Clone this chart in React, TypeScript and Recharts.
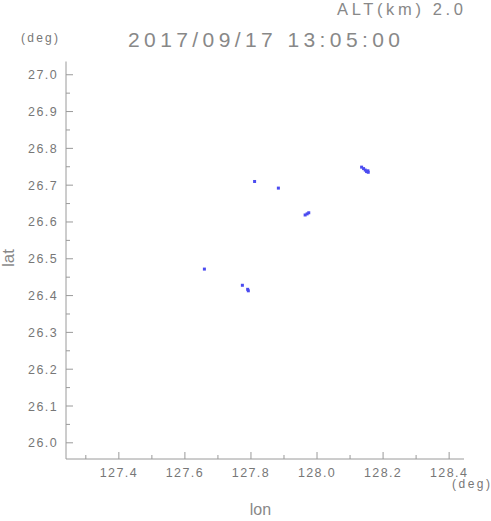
import { ScatterChart, Scatter, XAxis, YAxis } from "recharts";

const lon = [127.811, 127.883, 128.135, 128.141, 128.146, 128.15, 128.155, 128.154, 127.964, 127.97, 127.975, 127.659, 127.774, 127.79, 127.792];
const lat = [26.71, 26.692, 26.749, 26.745, 26.741, 26.737, 26.735, 26.739, 26.619, 26.622, 26.625, 26.472, 26.428, 26.417, 26.413];

const lonTicks = [127.3, 127.4, 127.5, 127.6, 127.7, 127.8, 127.9, 128.0, 128.1, 128.2, 128.3, 128.4];
const latTicks = [26.0, 26.05, 26.1, 26.15, 26.2, 26.25, 26.3, 26.35, 26.4, 26.45, 26.5, 26.55, 26.6, 26.65, 26.7, 26.75, 26.8, 26.85, 26.9, 26.95, 27.0];

const points = lon.map((x, i) => ({ lon: x, lat: lat[i] }));

const FRAME = "#9a9a9a";
const TEXT = "#777";
const FONT = "'Liberation Sans', Arial, sans-serif";

const isMajorLon = (v: number) => Math.round(v * 10) % 2 === 0;
const isMajorLat = (v: number) => Math.round(v * 100) % 10 === 0;

function BottomTick({ x, y, payload }: any) {
  const major = isMajorLon(payload.value);
  return (
    <g>
      <line x1={x} y1={y} x2={x} y2={y - (major ? 7 : 4)} stroke={FRAME} />
      {major && (
        <text x={x} y={y + 18} textAnchor="middle" fill={TEXT} fontSize={12.5} letterSpacing={1.4} fontFamily={FONT}>
          {payload.value.toFixed(1)}
        </text>
      )}
    </g>
  );
}

function TopTick({ x, y, payload }: any) {
  const major = isMajorLon(payload.value);
  return <line x1={x} y1={y} x2={x} y2={y + (major ? 7 : 4)} stroke={FRAME} />;
}

function LeftTick({ x, y, payload }: any) {
  const major = isMajorLat(payload.value);
  return (
    <g>
      <line x1={x} y1={y} x2={x + (major ? 7 : 4)} y2={y} stroke={FRAME} />
      {major && (
        <text x={x - 8} y={y + 4.5} textAnchor="end" fill={TEXT} fontSize={12.5} letterSpacing={1.4} fontFamily={FONT}>
          {payload.value.toFixed(1)}
        </text>
      )}
    </g>
  );
}

function RightTick({ x, y, payload }: any) {
  const major = isMajorLat(payload.value);
  return <line x1={x} y1={y} x2={x - (major ? 7 : 4)} y2={y} stroke={FRAME} />;
}

function Dot({ cx, cy }: any) {
  return <rect x={cx - 1.5} y={cy - 1.5} width={3} height={3} fill="#4b4bf0" />;
}

export default function App() {
  return (
    <div style={{ position: "absolute", left: 0, top: 0, width: 491, height: 521, background: "#fff" }}>
      <ScatterChart width={491} height={521} margin={{ top: 61.5, right: 27, bottom: 32, left: 0 }}>
        <XAxis
          xAxisId="bottom"
          dataKey="lon"
          type="number"
          domain={[127.24, 128.445]}
          allowDataOverflow
          ticks={lonTicks}
          interval={0}
          height={30}
          tickSize={0}
          tickMargin={0}
          stroke={FRAME}
          tick={<BottomTick />}
        />
        <XAxis
          xAxisId="top"
          orientation="top"
          dataKey="lon"
          type="number"
          domain={[127.24, 128.445]}
          allowDataOverflow
          ticks={lonTicks}
          interval={0}
          height={0}
          tickSize={0}
          tickMargin={0}
          stroke={FRAME}
          tick={<TopTick />}
        />
        <YAxis
          yAxisId="left"
          dataKey="lat"
          type="number"
          domain={[25.956, 27.036]}
          allowDataOverflow
          ticks={latTicks}
          interval={0}
          width={66}
          tickSize={0}
          tickMargin={0}
          stroke={FRAME}
          tick={<LeftTick />}
        />
        <YAxis
          yAxisId="right"
          orientation="right"
          dataKey="lat"
          type="number"
          domain={[25.956, 27.036]}
          allowDataOverflow
          ticks={latTicks}
          interval={0}
          width={0}
          tickSize={0}
          tickMargin={0}
          stroke={FRAME}
          tick={<RightTick />}
        />
        <Scatter data={points} xAxisId="bottom" yAxisId="left" shape={<Dot />} isAnimationActive={false} />
      </ScatterChart>
      <svg width={491} height={521} style={{ position: "absolute", left: 0, top: 0, pointerEvents: "none" }} fontFamily={FONT} fill={TEXT}>
        <text x={337} y={15} fontSize={16.5} fill="#888" textLength={126} lengthAdjust="spacing">ALT(km) 2.0</text>
        <text x={128} y={46.5} fontSize={21} fill="#888" textLength={272} lengthAdjust="spacing">2017/09/17 13:05:00</text>
        <text x={21} y={42} fontSize={12} textLength={37} lengthAdjust="spacing">(deg)</text>
        <text x={452} y={488} fontSize={12} textLength={38} lengthAdjust="spacing">(deg)</text>
        <text x={260.5} y={515} fontSize={16} fill="#888" textAnchor="middle">lon</text>
        <text x={14} y={258} fontSize={17} fill="#888" textAnchor="middle" transform="rotate(-90 14 258)">lat</text>
      </svg>
    </div>
  );
}
